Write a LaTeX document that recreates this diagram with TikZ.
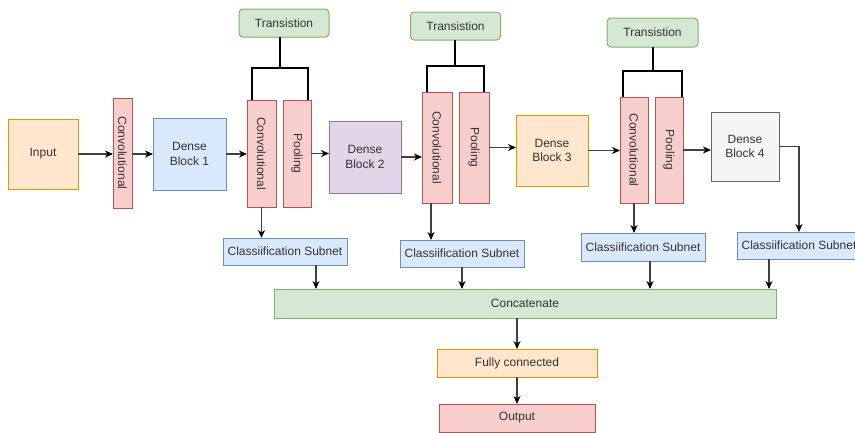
\documentclass[tikz,border=0pt]{standalone}
\usepackage{fontspec}
\setmainfont{Liberation Sans}
\usepackage{tikz}
\usetikzlibrary{positioning,arrows.meta}
\definecolor{orfill}{HTML}{FFE6CC}\definecolor{ordraw}{HTML}{D79B00}
\definecolor{blfill}{HTML}{DAE8FC}\definecolor{bldraw}{HTML}{6C8EBF}
\definecolor{pufill}{HTML}{E1D5E7}\definecolor{pudraw}{HTML}{9673A6}
\definecolor{gyfill}{HTML}{F5F5F5}\definecolor{gydraw}{HTML}{666666}
\definecolor{rdfill}{HTML}{F8CECC}\definecolor{rddraw}{HTML}{B85450}
\definecolor{grfill}{HTML}{D5E8D4}\definecolor{grdraw}{HTML}{82B366}

\begin{document}
\begin{tikzpicture}[x=1pt, y=-1pt, font=\fontsize{12}{14.5}\selectfont, text=black!80,
  box/.style={draw, line width=1pt, inner sep=0pt, outer sep=0pt, align=center},
  wh/.style 2 args={minimum width=#1pt, minimum height=#2pt},
  orng/.style={box, fill=orfill, draw=ordraw}, blu/.style={box, fill=blfill, draw=bldraw},
  purp/.style={box, fill=pufill, draw=pudraw}, gry/.style={box, fill=gyfill, draw=gydraw},
  grn/.style={box, fill=grfill, draw=grdraw}, trn/.style={grn, rounded corners=4pt, wh={90}{28}},
  lyr/.style={box, fill=rdfill, draw=rddraw}, vlab/.style={rotate=-90, inner sep=0pt},
  cls/.style={blu, wh={124}{27}},
  arr/.style={-{Stealth[length=8pt, width=7pt, inset=2.5pt, black]}, draw=black!75, line width=1.2pt},
  brk/.style={draw=black, line width=2pt}]
\useasboundingbox (0,0) rectangle (855,432);
% main row
\node[orng, wh={70}{70}] (input) at (43,154) {Input};
\node[lyr, wh={19}{110}, label={[vlab]center:Convolutional}] (conv1) at (122.5,153) {};
\node[blu, wh={73}{72}] (db1) at (189.5,154) {Dense\\Block 1};
\node[lyr, wh={29}{107}, label={[vlab]center:Convolutional}] (conv2) at (261.5,153.5) {};
\node[lyr, wh={28}{107}, label={[vlab]center:Pooling}] (pool2) at (297,153.5) {};
\node[purp, wh={72}{72}] (db2) at (365,157) {Dense\\Block 2};
\node[lyr, wh={30}{111}, label={[vlab]center:Convolutional}] (conv3) at (437,147.5) {};
\node[lyr, wh={30}{111}, label={[vlab]center:Pooling}] (pool3) at (474,147.5) {};
\node[orng, wh={72}{71}] (db3) at (552,150.5) {Dense\\Block 3};
\node[lyr, wh={28}{106}, label={[vlab]center:Convolutional}] (conv4) at (634,150) {};
\node[lyr, wh={28}{106}, label={[vlab]center:Pooling}] (pool4) at (669,150) {};
\node[gry, wh={68}{69}] (db4) at (745,146.5) {Dense\\Block 4};
% transitions
\node[trn] (trans1) at (284,23) {Transistion};
\node[trn] (trans2) at (455.5,26) {Transistion};
\node[trn, wh={91}{29}] (trans3) at (652.5,32.5) {Transistion};
\coordinate (j1) at (280,68); \coordinate (j2) at (455,66); \coordinate (j3) at (653,71);
% subnets and head
\node[cls] (cls1) at (285,251.5) {Classiification Subnet};
\node[cls] (cls2) at (462,253.5) {Classiification Subnet};
\node[cls, wh={124}{28}] (cls3) at (643,247) {Classiification Subnet};
\node[cls] (cls4) at (799,245.5) {Classiification Subnet};
\node[grn, wh={502}{29}] (concat) at (525,303.5) {Concatenate};
\node[orng, wh={160}{28}] (fc) at (517,363) {Fully connected};
\node[lyr, wh={156}{28}] (out) at (517,418) {Output};
% connectors
\draw[arr] (input.east) -- (input.east -| conv1.west);
\draw[arr] (conv1.east |- db1.west) -- (db1.west);
\draw[arr] (db1.east) -- (db1.east -| conv2.west);
\draw[arr] (pool2.east) -- (pool2.east -| db2.west);
\draw[arr] (db2.east) -- (db2.east -| conv3.west);
\draw[arr] (pool3.east) -- (pool3.east -| db3.west);
\draw[arr] (db3.east) -- (db3.east -| conv4.west);
\draw[arr] (pool4.east) -- (pool4.east -| db4.west);
\draw[arr] (db4.east) -| (cls4.north);
\draw[brk] (trans1.south -| j1) -- (j1); \draw[brk] ([xshift=-9.5pt]conv2.north) |- (j1) -| ([xshift=11pt]pool2.north);
\draw[brk] (trans2.south -| j2) -- (j2); \draw[brk] ([xshift=-10pt]conv3.north) |- (j2) -| ([xshift=10pt]pool3.north);
\draw[brk] (trans3.south -| j3) -- (j3); \draw[brk] ([xshift=-11pt]conv4.north) |- (j3) -| ([xshift=13pt]pool4.north);
\draw[arr] (conv2.south) -- (conv2.south |- cls1.north);
\draw[arr] ([xshift=-6pt]conv3.south) -- ([xshift=-6pt]conv3.south |- cls2.north);
\draw[arr] (conv4.south) -- (conv4.south |- cls3.north);
\draw[arr] ([xshift=31pt]cls1.south) -- ([xshift=31pt]cls1.south |- concat.north);
\draw[arr] (cls2.south) -- (cls2.south |- concat.north);
\draw[arr] ([xshift=7pt]cls3.south) -- ([xshift=7pt]cls3.south |- concat.north);
\draw[arr] ([xshift=-30pt]cls4.south) -- ([xshift=-30pt]cls4.south |- concat.north);
\draw[arr] (concat.south -| fc.north) -- (fc.north);
\draw[arr] (fc) -- (out);
\end{tikzpicture}
\end{document}
